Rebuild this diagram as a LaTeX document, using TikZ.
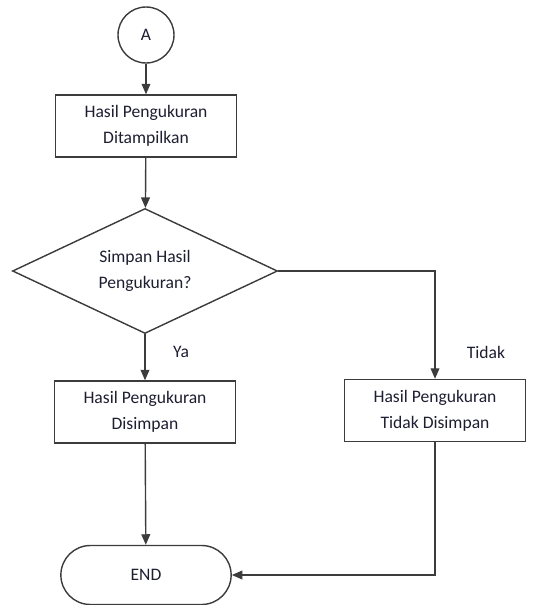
\documentclass[tikz,border=0pt]{standalone}
\usepackage{fontspec}
\setmainfont{Carlito}
\usetikzlibrary{arrows.meta,shapes.geometric,shapes.misc,positioning}
\definecolor{lineGray}{RGB}{60,60,60}
\definecolor{textNavy}{RGB}{30,30,50}

\begin{document}
\begin{tikzpicture}[
  proc/.style={rectangle,draw=lineGray,line width=0.8pt,minimum width=3.62cm,
               minimum height=1.24cm,align=center,font=\fontsize{10}{15}\selectfont,text=textNavy},
  conn/.style={circle,draw=lineGray,line width=0.8pt,minimum size=1.12cm,inner sep=0pt,
               font=\fontsize{10}{15}\selectfont,text=textNavy},
  decide/.style={diamond,draw=lineGray,line width=0.8pt,minimum width=5.3cm,minimum height=2.5cm,
                 aspect=2.1,inner sep=0pt,align=center,font=\fontsize{10}{15}\selectfont,text=textNavy},
  term/.style={rounded rectangle,draw=lineGray,line width=0.8pt,minimum width=3.64cm,
               minimum height=1.18cm,font=\fontsize{10}{15}\selectfont,text=textNavy},
  lbl/.style={font=\fontsize{10}{15}\selectfont,text=textNavy},
  flow/.style={-{Triangle[length=6pt,width=5pt]},draw=lineGray,line width=0.8pt}
]
  \useasboundingbox (0,0) rectangle (10.68,-12.1);

  \node[conn](conA)    at (2.92,-0.70)  {A};
  \node[proc](tampil)  at (2.92,-2.52)  {Hasil Pengukuran\\Ditampilkan};
  \node[decide](simpan) at (2.90,-5.42) {Simpan Hasil\\Pengukuran?};
  \node[proc](disimpan) at (2.90,-8.24) {Hasil Pengukuran\\Disimpan};
  \node[proc](tidakdis) at (8.70,-8.21) {Hasil Pengukuran\\Tidak Disimpan};
  \node[term](selesai) at (2.92,-11.50) {END};
  \node[lbl](ya)       at (3.62,-7.04)  {Ya};
  \node[lbl](tidak)    at (9.72,-7.04)  {Tidak};

  \draw[flow](conA)--(tampil);
  \draw[flow](tampil)--(simpan);
  \draw[flow](simpan)--(disimpan);
  \draw[flow](simpan.east)-|(tidakdis.north);
  \draw[flow](disimpan)--(selesai);
  \draw[flow](tidakdis.south)|-(selesai.east);
\end{tikzpicture}
\end{document}
